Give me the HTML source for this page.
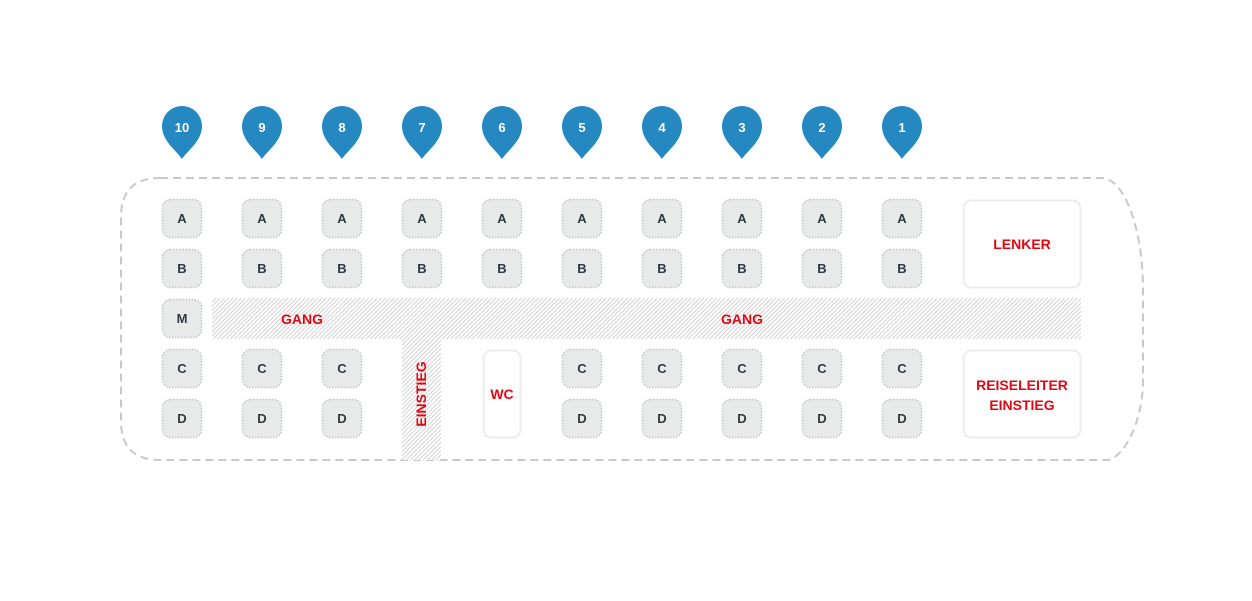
<!DOCTYPE html>
<html>
<head>
<meta charset="utf-8">
<style>
html,body{margin:0;padding:0;background:#fff;}
svg{display:block;}
.seat{fill:#e8e9e9;stroke:#c3c4c5;stroke-width:1.5;stroke-dasharray:1.5 1.5;}
.sl{font-family:"Liberation Sans",sans-serif;font-weight:bold;font-size:13px;fill:#2e3a44;text-anchor:middle;}
.rl{font-family:"Liberation Sans",sans-serif;font-weight:bold;font-size:14px;fill:#e30613;text-anchor:middle;}
.pn{font-family:"Liberation Sans",sans-serif;font-weight:bold;font-size:13px;fill:#fff;text-anchor:middle;}
.box{fill:#fff;stroke:#ececec;stroke-width:2;}
</style>
</head>
<body>
<svg width="1252" height="601" viewBox="0 0 1252 601" xmlns="http://www.w3.org/2000/svg">
<defs>
<pattern id="h" width="3" height="3" patternUnits="userSpaceOnUse" patternTransform="rotate(-45)">
<rect width="3" height="3" fill="#fff"/>
<rect width="3" height="1" fill="#d2d2d2"/>
</pattern>
<g id="pin"><path d="M0 33 C-6 24 -20 15 -20 0 A20 20 0 1 1 20 0 C20 15 6 24 0 33 Z" fill="#2688c1"/></g>
</defs>

<!-- bus outline -->
<path d="M160 178 L1103 178 C1125 180 1143 230 1143 290 L1143 380 C1143 420 1125 458 1107 460 L160 460 Q121 460 121 421 L121 217 Q121 178 160 178 Z" fill="none" stroke="#c8c8c8" stroke-width="2" stroke-dasharray="8 5"/>

<!-- hatch areas -->
<rect x="212" y="298" width="869" height="41" fill="url(#h)"/>
<rect x="402" y="339" width="39" height="121" fill="url(#h)"/>

<!-- pins -->
<g>
<use href="#pin" x="182" y="126"/><text class="pn" x="182" y="132">10</text>
<use href="#pin" x="262" y="126"/><text class="pn" x="262" y="132">9</text>
<use href="#pin" x="342" y="126"/><text class="pn" x="342" y="132">8</text>
<use href="#pin" x="422" y="126"/><text class="pn" x="422" y="132">7</text>
<use href="#pin" x="502" y="126"/><text class="pn" x="502" y="132">6</text>
<use href="#pin" x="582" y="126"/><text class="pn" x="582" y="132">5</text>
<use href="#pin" x="662" y="126"/><text class="pn" x="662" y="132">4</text>
<use href="#pin" x="742" y="126"/><text class="pn" x="742" y="132">3</text>
<use href="#pin" x="822" y="126"/><text class="pn" x="822" y="132">2</text>
<use href="#pin" x="902" y="126"/><text class="pn" x="902" y="132">1</text>
</g>

<!-- seats A/B -->
<g>
<rect class="seat" x="162.5" y="199.5" width="39" height="38" rx="8"/><text class="sl" x="182" y="223">A</text>
<rect class="seat" x="242.5" y="199.5" width="39" height="38" rx="8"/><text class="sl" x="262" y="223">A</text>
<rect class="seat" x="322.5" y="199.5" width="39" height="38" rx="8"/><text class="sl" x="342" y="223">A</text>
<rect class="seat" x="402.5" y="199.5" width="39" height="38" rx="8"/><text class="sl" x="422" y="223">A</text>
<rect class="seat" x="482.5" y="199.5" width="39" height="38" rx="8"/><text class="sl" x="502" y="223">A</text>
<rect class="seat" x="562.5" y="199.5" width="39" height="38" rx="8"/><text class="sl" x="582" y="223">A</text>
<rect class="seat" x="642.5" y="199.5" width="39" height="38" rx="8"/><text class="sl" x="662" y="223">A</text>
<rect class="seat" x="722.5" y="199.5" width="39" height="38" rx="8"/><text class="sl" x="742" y="223">A</text>
<rect class="seat" x="802.5" y="199.5" width="39" height="38" rx="8"/><text class="sl" x="822" y="223">A</text>
<rect class="seat" x="882.5" y="199.5" width="39" height="38" rx="8"/><text class="sl" x="902" y="223">A</text>

<rect class="seat" x="162.5" y="249.5" width="39" height="38" rx="8"/><text class="sl" x="182" y="273">B</text>
<rect class="seat" x="242.5" y="249.5" width="39" height="38" rx="8"/><text class="sl" x="262" y="273">B</text>
<rect class="seat" x="322.5" y="249.5" width="39" height="38" rx="8"/><text class="sl" x="342" y="273">B</text>
<rect class="seat" x="402.5" y="249.5" width="39" height="38" rx="8"/><text class="sl" x="422" y="273">B</text>
<rect class="seat" x="482.5" y="249.5" width="39" height="38" rx="8"/><text class="sl" x="502" y="273">B</text>
<rect class="seat" x="562.5" y="249.5" width="39" height="38" rx="8"/><text class="sl" x="582" y="273">B</text>
<rect class="seat" x="642.5" y="249.5" width="39" height="38" rx="8"/><text class="sl" x="662" y="273">B</text>
<rect class="seat" x="722.5" y="249.5" width="39" height="38" rx="8"/><text class="sl" x="742" y="273">B</text>
<rect class="seat" x="802.5" y="249.5" width="39" height="38" rx="8"/><text class="sl" x="822" y="273">B</text>
<rect class="seat" x="882.5" y="249.5" width="39" height="38" rx="8"/><text class="sl" x="902" y="273">B</text>

<rect class="seat" x="162.5" y="299.5" width="39" height="38" rx="8"/><text class="sl" x="182" y="323">M</text>
</g>

<!-- seats C/D -->
<g>
<rect class="seat" x="162.5" y="349.5" width="39" height="38" rx="8"/><text class="sl" x="182" y="373">C</text>
<rect class="seat" x="242.5" y="349.5" width="39" height="38" rx="8"/><text class="sl" x="262" y="373">C</text>
<rect class="seat" x="322.5" y="349.5" width="39" height="38" rx="8"/><text class="sl" x="342" y="373">C</text>
<rect class="seat" x="562.5" y="349.5" width="39" height="38" rx="8"/><text class="sl" x="582" y="373">C</text>
<rect class="seat" x="642.5" y="349.5" width="39" height="38" rx="8"/><text class="sl" x="662" y="373">C</text>
<rect class="seat" x="722.5" y="349.5" width="39" height="38" rx="8"/><text class="sl" x="742" y="373">C</text>
<rect class="seat" x="802.5" y="349.5" width="39" height="38" rx="8"/><text class="sl" x="822" y="373">C</text>
<rect class="seat" x="882.5" y="349.5" width="39" height="38" rx="8"/><text class="sl" x="902" y="373">C</text>

<rect class="seat" x="162.5" y="399.5" width="39" height="38" rx="8"/><text class="sl" x="182" y="423">D</text>
<rect class="seat" x="242.5" y="399.5" width="39" height="38" rx="8"/><text class="sl" x="262" y="423">D</text>
<rect class="seat" x="322.5" y="399.5" width="39" height="38" rx="8"/><text class="sl" x="342" y="423">D</text>
<rect class="seat" x="562.5" y="399.5" width="39" height="38" rx="8"/><text class="sl" x="582" y="423">D</text>
<rect class="seat" x="642.5" y="399.5" width="39" height="38" rx="8"/><text class="sl" x="662" y="423">D</text>
<rect class="seat" x="722.5" y="399.5" width="39" height="38" rx="8"/><text class="sl" x="742" y="423">D</text>
<rect class="seat" x="802.5" y="399.5" width="39" height="38" rx="8"/><text class="sl" x="822" y="423">D</text>
<rect class="seat" x="882.5" y="399.5" width="39" height="38" rx="8"/><text class="sl" x="902" y="423">D</text>
</g>

<!-- boxes -->
<rect class="box" x="963.5" y="200.5" width="117" height="87" rx="8"/>
<text class="rl" x="1022" y="249">LENKER</text>
<rect class="box" x="963.5" y="350.5" width="117" height="87" rx="8"/>
<text class="rl" x="1022" y="390">REISELEITER</text>
<text class="rl" x="1022" y="410">EINSTIEG</text>
<rect class="box" x="483.5" y="350.5" width="37" height="87" rx="8"/>
<text class="rl" x="502" y="399">WC</text>

<!-- labels -->
<text class="rl" x="302" y="324">GANG</text>
<text class="rl" x="742" y="324">GANG</text>
<text class="rl" transform="translate(426 394) rotate(-90)" x="0" y="0">EINSTIEG</text>
</svg>
</body>
</html>
